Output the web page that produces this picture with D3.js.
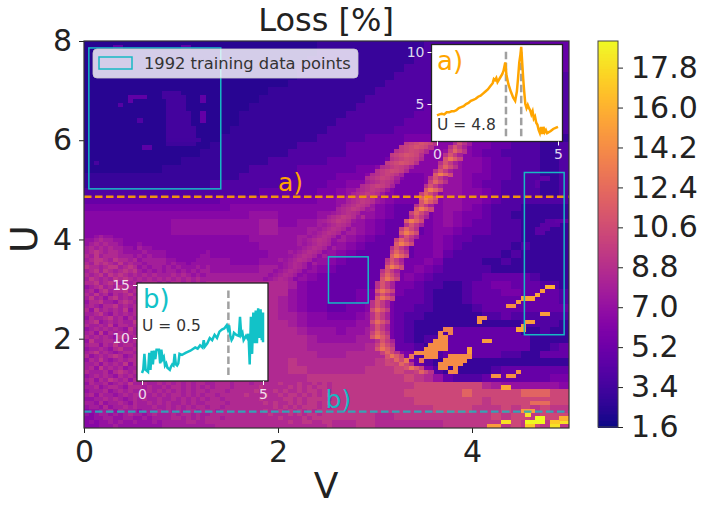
<!DOCTYPE html>
<html><head><meta charset="utf-8">
<script src="https://cdn.jsdelivr.net/npm/d3@7"></script>
<style>
html,body{margin:0;padding:0;background:#fff}
svg{display:block}
text{font-family:"DejaVu Sans",sans-serif}
</style></head><body>
<svg id="c" width="701" height="507"></svg>
<script>
// --- data ---
const lossLevels = {"0":2.4,"1":3.0,"2":4,"3":4.9,"4":5.7,"5":6.4,"6":7.1,"7":7.8,"8":8.5,"9":9.3,a:10.3,b:12,c:13.5,d:15,e:16,f:17,g:18,h:19};
// coarse background, 50 x 50 cells, top row first
const lossRows = [
"0000000000 0000000000 0000111111 1111122222 2222223333",
"0000000000 0000000000 0000111111 1111122222 2222222233",
"0000000000 0000000000 0001111111 1111222222 2222222233",
"0000000000 0000000000 0011111111 1112222222 2222222233",
"0000000000 0000000000 0011111111 1122222222 2222222222",
"0000000000 0000000000 0111111111 1222222222 2222222222",
"0000000000 0000000001 1111111111 2222222233 3333333322",
"0000000000 0000000011 1111111112 2222223333 3333333322",
"0000000000 0000000111 1111111122 2222233333 3333333322",
"0000000000 0000001111 1111111222 2222333333 3333333322",
"0000000000 0000001111 1111112222 2223333344 3333333322",
"0000000000 0000011111 1111122222 2233334444 3333333322",
"0000000000 0000111111 1111222223 3334444444 3333333211",
"0000000000 0001111111 1122222333 3334555555 4433222112",
"0000000000 0011111111 1222222333 3344555665 4332222112",
"0000000000 1111111112 2222233333 3445555665 5433222112",
"0000000011 1111111222 2233333344 5555555665 5433222112",
"1111111111 1111112222 2233334445 6554455665 4433222112",
"1111111111 1112222222 2333344556 6544455665 4332222112",
"2222222222 2222222233 3333445667 6544445665 5432222112",
"3333333333 3333444444 4444556778 6544445665 5432222222",
"4444444444 4444455555 5555556787 5433445665 4322211111",
"5555555555 5555555666 5555667786 5433345654 4322111111",
"5555555556 6666666677 5566778865 4333345654 3322211111",
"5555555556 6666666677 6667788765 4333345543 3322211111",
"5555555555 5555555666 6677887654 3333445433 2222211111",
"6677776666 6655555566 6678876543 3333445432 2222121111",
"7777777776 6665555556 6788765433 3333445322 2221211111",
"7888888877 7666655566 7887654333 3334454222 2112111111",
"7888898887 7776666677 7876543333 3344543222 2211111111",
"7898888988 8877777778 8765433333 3445432222 2333332111",
"7889888988 8888888888 8754433333 4544322112 3344333221",
"7889888888 8888888888 8654433344 5443321112 3334433332",
"7898898888 8888888888 7654433344 5433321112 3333333332",
"7889888888 8888888888 7654433445 5433221111 2333333333",
"8788988888 8888888888 7765544456 6432211111 1223222222",
"7898888888 8888888888 8765555566 6432111111 1111122221",
"7889888888 8888888888 8876665667 6432111233 3333311211",
"8798888888 8888888888 8887666677 6432122333 3333331111",
"7889888888 8888888888 8887777778 7533213333 3333331123",
"8798888888 8888888888 8888777888 8754212333 3332211333",
"7889888888 8888888888 8988888888 9a85321111 1111111111",
"7898888888 8888888888 8998888889 99a9642111 1123333333",
"8788988888 8888888888 8889999999 999a986322 2333333344",
"7898898988 8888888888 8889999999 9999aaaaaa a876666665",
"7898989989 8888888888 8899999999 999aaaaaab aaaaabbbaa",
"7787898998 8888888888 8999999999 9999aaaaaa a9aaaaaaaa",
"7678787889 8888888888 8899999999 999999aaaa 999a9a9a99",
"6767878788 8888888888 8888899999 8899999999 99a9aa9aaa",
"6666777877 7887788888 8888888899 8888888999 9999a9a9a9"
];
// mottled areas on the 100 x 100 grid: [first row, first col, rows]
const mottledLeft = [50,0,["55676655555","66787766555","67878776555","78787877665","78987887666","87978887776","78998798878","87989879787","98878997898","78979878989","87897989878","79878798987","88978987878","67897879887","78689788978","87978687897","79786897878","68897768987","78768897878","86978787968","77897687878","68778978687","78967878779","87787968878","67878787697","78696878787","87878769878","69778878678","78868797887","67787689778","78978767887","86787898678","68797678788","77868787968","78697878677","87778689878","67878768787","78687987868","68778678797","77867887688","67778678787","78687767878","66778787678","77686778768","67768677878","56677868777","65677676787","55667766776","56566767667","55566676666"]];
const mottledTop = [52,11,["65555555555555","76655555555555","67666655555555","76766655555556","67777766555566","76777767665666","67677676766676","76767677676767","78787778787676","87878787878787","78887878878787"]];
const mottledBottom = [88,11,["7877878787878877888788878888898889889898","8787787887878787888788888988888989898998","7787878787878878887888889888989889899898","8778787887878788788888988898898998989899","7877877878787878878888888988889989899998","7787878778787788887888888898988989899899","7778778787878878878888888888989898999898","6777878787887888788888888898898989898999","7678777878878778888888888889888989899899","6767777887878788878888888888898888989999","6667677777887788888888888888888988998899","6666677777777777888888888888888888888889"]];
// the two ridges: centre column and loss for each grid row
const ridge1FirstRow = 26;
const ridge1Cols = [69,68,67,66,66,65,64,63,62,61,61,60,59,58,57,57,56,55,54,53,52,52,51,50,49,48,48,47,46,45,44,43,43,42,41,40];
const ridge1Loss = [11,11,10.5,11,10.5,11,10,10.5,10,10,9.5,10,9.5,9.5,9.5,9.5,9.5,9.5,9,9.5,9.5,9,9,9,8.8,9,8.8,8.8,8.8,8.8,8.8,8.5,8.5,8.5,8.5,8.5];
const ridge1Profile = [-1.5,-1,-0.5,0,-0.3,-0.8,-2];
const ridge2FirstRow = 26;
const ridge2Cols = [77,76,76,75,75,74,74,73,73,72,72,71,71,70,70,70,69,69,68,68,67,67,66,66,66,65,65,64,64,64,63,63,63,62,62,62,61,61,61,61,61,60,60,60,60,60,60,60,60,60,60,61,61,61,62,63,64,65,67,69];
const ridge2Loss = [10.5,11,12,11,13,11,12,11,13.5,11, 12,11,13.5,12,14,13,11,13.5,12,11, 13.5,11,12,13.5,11,12,13.5,11,12,13.5, 11,11.5,13.5,11,12,13,11,11,13,11, 13,11,11,12.5,11,11,12.5,11,11,12, 13,11,12,13,12,13,12,12,13,12];
const ridge2Profile = [-2,0,-1.5,-3];
// individually read cells on the 100x100 grid: [row, first col, last col, loss]
const fineCells = [
[13,16,19,3.5],[14,16,20,3.5],[15,17,20,3.5],[16,17,20,3.5],[17,17,20,3.5],[18,17,21,3.5],[19,17,21,3.5],
[20,17,21,3.5],[21,17,21,3.5],[22,17,22,3.5],[23,17,22,3.5],[24,17,22,3.5],[25,17,23,3.4],[26,17,22,3.2],
[14,10,12,4.6],[14,9,9,4.6],[15,9,9,4.6],[16,7,7,4.2],[15,24,24,4.6],[14,24,24,4.6],[18,24,24,4.8],[19,24,24,4.8],[20,24,24,4.8],
[20,11,11,4],[27,12,13,4.5],
[1,6,7,4.6],[1,20,21,4.6],[31,2,2,3.6],
[46,97,99,4.6],[46,95,96,4.4],[47,94,97,4.4],[48,93,95,4.4],[49,93,94,4.4],[36,93,93,4.6],[37,93,93,4.6],[35,94,95,4.6],
[74,74,75,13.5],[75,73,73,14],[75,75,75,13.5],
[76,73,74,14.2],[77,72,74,14.2],[78,71,74,14.2],[79,70,74,14.2],[80,68,72,14.2],[81,70,72,14.2],[81,67,67,13],[82,66,66,13],[82,69,69,13],
[79,79,79,15],[80,79,79,15],[81,75,79,14.2],[82,74,78,14.2],[83,73,77,14.2],[84,73,74,14.2],[84,76,76,14.2],[85,75,76,14],
[77,82,83,15],[72,81,81,14.5],[71,81,82,14.5],
[68,87,88,14.5],[67,89,89,15],[66,90,92,15.5],[65,93,93,15.5],[64,94,94,15],[63,95,96,16],[70,94,95,15],
[72,91,92,15],[73,90,90,15],[74,89,90,15.5],
[86,84,85,14.5],[86,87,88,14.5],[85,89,89,14.5],[89,86,87,15.5],
[93,92,95,12.5],[95,90,92,15],[96,91,91,18],[97,93,94,19],[98,91,94,19],[98,86,87,18],[99,91,92,17],[98,98,99,18],[99,96,97,18],[98,96,97,17],[97,98,99,16],[99,83,85,15]
];
const trainingBoxes = [[0.05,1.41,5.02,7.86],[2.52,2.93,2.72,3.65],[4.54,4.95,2.08,5.35]];
const cbarTicks = [1.6,3.4,5.2,7.0,8.8,10.6,12.4,14.2,16.0,17.8];
const mainXTicks = [0,2,4], mainYTicks = [2,4,6,8];
const cutA = 4.86, cutB = 0.53;
const aV = [0,.1,.2,.3,.4,.5,.6,.7,.8,.9,1,1.1,1.2,1.3,1.4,1.5,1.6,1.7,1.8,1.9,2,2.1,2.2,2.3,2.35,2.4,2.45,2.5,2.55,2.6,2.7,2.75,2.82,2.87,2.95,3.05,3.15,3.23,3.3,3.35,3.4,3.45,3.48,3.52,3.56,3.6,3.65,3.7,3.75,3.8,3.85,3.9,3.95,4,4.05,4.1,4.15,4.2,4.25,4.3,4.35,4.4,4.45,4.5,4.55,4.7,4.8,4.9,5];
const aL = [3.9,4,4.05,4,4.2,4.2,4.3,4.3,4.4,4.6,4.7,4.8,5,5.1,5.3,5.4,5.5,5.7,5.8,6,6.2,6.4,6.7,7,7.4,7.3,7.5,7.1,7.3,7.5,7.9,8.2,9,7.8,6.9,6.2,5.6,5.3,6.2,7.5,9,9.8,10.5,9,7.5,6.3,5,4.6,4.9,4.6,4.4,4,4.3,3.6,3.8,3.2,3,2.5,2.2,2.8,2.1,2.8,2.3,2.5,2.2,2.4,2.6,2.7,2.8];
const bV = [0,.05,.1,.15,.2,.25,.3,.35,.4,.45,.5,.55,.6,.65,.7,.75,.8,.85,.9,.95,1,1.05,1.1,1.15,1.2,1.25,1.3,1.35,1.4,1.45,1.5,1.55,1.65,1.8,2,2.2,2.3,2.4,2.5,2.55,2.6,2.7,2.8,2.9,3,3.1,3.2,3.3,3.4,3.5,3.55,3.6,3.65,3.7,3.75,3.8,3.9,4,4.05,4.1,4.15,4.2,4.3,4.35,4.4,4.45,4.5,4.55,4.6,4.65,4.7,4.75,4.8,4.85,4.9,4.95,5,5];
const bL = [6.7,7,8.5,7,6.9,6.8,8.6,7,8.8,7.5,8.8,8,8.9,8.9,8.9,7.6,8.9,8,8.2,7.4,7.6,7.2,7.1,7,7.3,7.5,7.4,8.5,7.5,7.4,7.6,8.5,8.4,8.6,8.8,9.1,9,9.3,9.1,9.8,9.2,9.5,10,9.8,10.3,10,10.6,10.8,10.9,11.2,10.8,11.2,10.2,9.8,10,10.5,10.3,10.2,12,10.3,10.5,9.8,10.2,10,10.4,7.5,12,8.5,12.4,9.5,12.6,9.5,12.8,10,12.7,9.8,12.4,9.6];
const aMarks = [2.85,3.48], bMarks = [3.57];

// --- drawing ---
const svg = d3.select("#c");
const x = d3.scaleLinear().domain([0,5]).range([84,569]);
const y = d3.scaleLinear().domain([0.2,8]).range([428,41]);
const color = d3.scaleSequential(d3.interpolatePlasma).domain([1.6,19]);
svg.append("clipPath").attr("id","plot").append("rect").attr("x",84).attr("y",41).attr("width",485).attr("height",387);
const gHeat = svg.append("g").attr("clip-path","url(#plot)").append("g").attr("shape-rendering","crispEdges").style("filter","blur(0.6px)");
const coarse = [];
lossRows.forEach((s,r)=>{ s.replace(/ /g,"").split("").forEach((ch,c)=>coarse.push({r,c,v:lossLevels[ch]})); });
const dV=0.1, dU=(8-0.2)/50;
gHeat.selectAll("rect.b").data(coarse).join("rect").attr("class","b")
 .attr("x",d=>x(d.c*dV)).attr("width",d=>x((d.c+1)*dV)-x(d.c*dV)+0.5)
 .attr("y",d=>y(8-d.r*dU)).attr("height",d=>y(8-(d.r+1)*dU)-y(8-d.r*dU)+0.5)
 .attr("fill",d=>color(d.v));
const fV=0.05, fU=(8-0.2)/100;
const fine=[];
[mottledLeft,mottledTop,mottledBottom].forEach(([r0,c0,rows])=>rows.forEach((s,i)=>s.split("").forEach((ch,j)=>fine.push([r0+i,c0+j,c0+j,lossLevels[ch]]))));
ridge1Cols.forEach((c,i)=>ridge1Profile.forEach((p,k)=>fine.push([ridge1FirstRow+i,c+k-3,c+k-3,ridge1Loss[i]+p])));
ridge2Cols.forEach((c,i)=>ridge2Profile.forEach((p,k)=>fine.push([ridge2FirstRow+i,c+k-1,c+k-1,ridge2Loss[i]+p])));
fineCells.forEach(d=>fine.push(d));
gHeat.selectAll("rect.f").data(fine).join("rect").attr("class","f")
 .attr("x",d=>x(d[1]*fV)).attr("width",d=>x((d[2]+1)*fV)-x(d[1]*fV)+0.3)
 .attr("y",d=>y(8-d[0]*fU)).attr("height",d=>y(8-(d[0]+1)*fU)-y(8-d[0]*fU)+0.3)
 .attr("fill",d=>color(d[3]));

const tealLine="#17b9c4", orangeLine="#ffa500";
[[cutA,"#f0920f",1],[cutB,"#1fb5bd",0.85]].forEach(([u,col,op])=>{
 svg.append("line").attr("x1",x(0)).attr("x2",x(5)).attr("y1",y(u)).attr("y2",y(u))
  .attr("stroke",col).attr("stroke-width",2.4).attr("stroke-dasharray","7.5 3.5").attr("opacity",op);
});
svg.append("text").attr("x",x(2.0)).attr("y",y(cutA)-6).attr("font-size",25).attr("fill",orangeLine).text("a)");
svg.append("text").attr("x",x(2.49)).attr("y",y(cutB)-4).attr("font-size",25).attr("fill","#17b9c4").text("b)");

svg.selectAll("rect.tb").data(trainingBoxes).join("rect").attr("class","tb")
 .attr("x",d=>x(d[0])).attr("width",d=>x(d[1])-x(d[0]))
 .attr("y",d=>y(d[3])).attr("height",d=>y(d[2])-y(d[3]))
 .attr("fill","none").attr("stroke",tealLine).attr("stroke-width",1.5);

// legend
svg.append("rect").attr("x",93).attr("y",49).attr("width",265).attr("height",29).attr("rx",4)
 .attr("fill","#fff").attr("fill-opacity",0.8).attr("stroke","#ccc").attr("stroke-opacity",0.8);
svg.append("rect").attr("x",99).attr("y",57).attr("width",33).attr("height",12).attr("fill","none").attr("stroke",tealLine).attr("stroke-width",1.5);
svg.append("text").attr("x",144).attr("y",69).attr("font-size",16.3).attr("fill","#333").text("1992 training data points");

// main axes
function styleAxis(g,size){ g.selectAll("text").attr("font-size",size).attr("fill","#222").style("font-family",'"DejaVu Sans"');
 g.selectAll("line").attr("stroke","#222").attr("stroke-width",1); g.select(".domain").attr("stroke","none"); }
const gx=svg.append("g").attr("transform","translate(0,428)").call(d3.axisBottom(x).tickValues(mainXTicks).tickFormat(d3.format("d")).tickSize(5).tickPadding(8));
styleAxis(gx,30);
const gy=svg.append("g").attr("transform","translate(84,0)").call(d3.axisLeft(y).tickValues(mainYTicks).tickFormat(d3.format("d")).tickSize(5).tickPadding(7));
styleAxis(gy,30);
svg.append("rect").attr("x",84).attr("y",41).attr("width",485).attr("height",387).attr("fill","none").attr("stroke","#333").attr("stroke-width",1.2);
svg.append("text").attr("x",326).attr("y",31).attr("text-anchor","middle").attr("font-size",32).attr("fill","#222").text("Loss [%]");
svg.append("text").attr("x",326).attr("y",498).attr("text-anchor","middle").attr("font-size",36).attr("fill","#222").text("V");
svg.append("text").attr("transform","translate(37,239) rotate(-90)").attr("text-anchor","middle").attr("font-size",38).attr("fill","#222").text("U");

// colourbar
const cy=d3.scaleLinear().domain([1.6,19]).range([427,41]);
const steps=d3.range(0,256).map(i=>1.6+i*(19-1.6)/256);
svg.append("g").attr("shape-rendering","crispEdges").selectAll("rect").data(steps).join("rect")
 .attr("x",598).attr("width",20).attr("y",d=>cy(d+(19-1.6)/256)).attr("height",d=>cy(d)-cy(d+(19-1.6)/256)+0.5).attr("fill",d=>color(d));
svg.append("rect").attr("x",598).attr("y",41).attr("width",20).attr("height",386).attr("fill","none").attr("stroke","#444").attr("stroke-width",1);
const gc=svg.append("g").attr("transform","translate(618,0)").call(d3.axisRight(cy).tickValues(cbarTicks).tickFormat(d3.format(".1f")).tickSize(5).tickPadding(8));
styleAxis(gc,30);

// insets
function inset(b){
 const g=svg.append("g");
 const ix=d3.scaleLinear().domain(b.xd).range(b.xr), iy=d3.scaleLinear().domain(b.yd).range(b.yr);
 g.append("rect").attr("x",b.box[0]).attr("y",b.box[1]).attr("width",b.box[2]-b.box[0]).attr("height",b.box[3]-b.box[1])
  .attr("fill","#fff").attr("stroke","#222").attr("stroke-width",1.3);
 const ax=g.append("g").attr("transform",`translate(0,${b.box[3]})`).call(d3.axisBottom(ix).tickValues([0,5]).tickFormat(d3.format("d")).tickSize(4).tickPadding(4));
 const ay=g.append("g").attr("transform",`translate(${b.box[0]},0)`).call(d3.axisLeft(iy).tickValues(b.yt).tickFormat(d3.format("d")).tickSize(4).tickPadding(3));
 [ax,ay].forEach(a=>{a.selectAll("text").attr("font-size",14).attr("fill","#fff").attr("fill-opacity",.85);a.selectAll("line").attr("stroke","#fff");a.select(".domain").attr("stroke","none");});
 b.marks.forEach(m=>g.append("line").attr("x1",ix(m)).attr("x2",ix(m)).attr("y1",iy(b.mr[0])).attr("y2",iy(b.mr[1]))
   .attr("stroke","#a0a0a0").attr("stroke-width",2.5).attr("stroke-dasharray","7.5 3.5"));
 g.append("path").datum(d3.zip(b.V,b.L)).attr("fill","none").attr("stroke",b.col).attr("stroke-width",2.5)
  .attr("d",d3.line().x(d=>ix(d[0])).y(d=>iy(d[1])));
 g.append("text").attr("x",b.lx).attr("y",b.ly).attr("font-size",26).attr("fill",b.col).text(b.lab);
 g.append("text").attr("x",b.ux).attr("y",b.uy).attr("font-size",15.5).attr("fill","#333").text(b.ut);
}
inset({box:[431.5,44.5,562.5,141.5],xd:[0,5],xr:[437,558],yd:[5,10],yr:[104,52],yt:[5,10],
 V:aV,L:aL,marks:aMarks,mr:[1.9,10.2],col:orangeLine,lab:"a)",lx:437,ly:70,ut:"U = 4.8",ux:437,uy:130});
inset({box:[137,283,268,381],xd:[0,5],xr:[142,263],yd:[10,15],yr:[338,285],yt:[10,15],
 V:bV,L:bL,marks:bMarks,mr:[6.5,14.7],col:"#12c2c8",lab:"b)",lx:143,ly:308,ut:"U = 0.5",ux:142,uy:331});
</script>
</body></html>
